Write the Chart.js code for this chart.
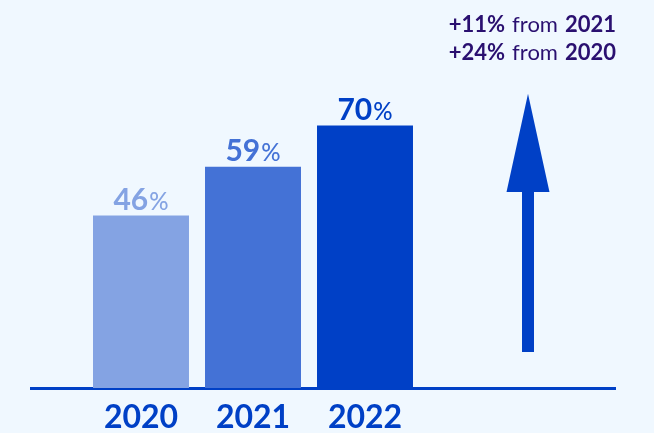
<!DOCTYPE html>
<html>
<head>
<meta charset="utf-8">
<script src="https://cdn.jsdelivr.net/npm/chart.js@4/dist/chart.umd.min.js"></script>
<style>
  body { margin: 0; background: #f0f8ff; }
  #share-chart { display: block; }
</style>
</head>
<body>
<canvas id="share-chart" width="654" height="433"></canvas>
<script>
const ctx = document.getElementById('share-chart');

// Share per year (%)
const years = ['2020', '2021', '2022'];
const shares = [46, 59, 70];
const barColors = ['#84a3e3', '#4472d6', '#0040c6'];

// Growth notes in the top right
const growthNotes = [
    ['+11%', 'from', '2021'],
    ['+24%', 'from', '2020']
];

// Arrow drawn on the y scale: foot, head base, tip
const arrowValues = [9.6, 52.3, 78.5];

const FONT = 'Lato, "DejaVu Sans", sans-serif';

// value labels above bars, big digits + smaller %
const valueLabels = {
    id: 'valueLabels',
    afterDatasetsDraw(chart) {
        const c = chart.ctx;
        const meta = chart.getDatasetMeta(0);
        c.save();
        c.textBaseline = 'alphabetic';
        meta.data.forEach((bar, i) => {
            const num = String(shares[i]);
            c.font = 'bold 30px ' + FONT;
            const w1 = c.measureText(num).width;
            c.font = '500 24px ' + FONT;
            const w2 = c.measureText('%').width;
            const x0 = bar.x - (w1 + w2 + 1) / 2;
            const y = bar.y - 6;
            c.fillStyle = barColors[i];
            c.font = 'bold 30px ' + FONT;
            c.textAlign = 'left';
            c.fillText(num, x0, y);
            c.font = '500 24px ' + FONT;
            c.fillText('%', x0 + w1 + 1, y);
        });
        c.restore();
    }
};

// baseline, arrow and notes
const decor = {
    id: 'decor',
    beforeDatasetsDraw(chart) {
        const c = chart.ctx;
        const y0 = chart.scales.y.getPixelForValue(0);
        c.save();
        c.strokeStyle = '#0040c6';
        c.lineWidth = 3;
        c.beginPath();
        c.moveTo(30, y0 + 0.5);
        c.lineTo(616, y0 + 0.5);
        c.stroke();
        c.restore();
    },
    afterDraw(chart) {
        const c = chart.ctx;
        const ys = chart.scales.y;
        const ax = chart.chartArea.right + 107;
        const yFoot = ys.getPixelForValue(arrowValues[0]);
        const yBase = ys.getPixelForValue(arrowValues[1]);
        const yTip = ys.getPixelForValue(arrowValues[2]);
        c.save();
        c.fillStyle = '#0040c6';
        c.fillRect(ax - 6, yBase - 1, 12, yFoot - yBase + 1);
        c.beginPath();
        c.moveTo(ax, yTip);
        c.lineTo(ax + 21.5, yBase);
        c.lineTo(ax - 21.5, yBase);
        c.closePath();
        c.fill();

        // notes, right aligned
        c.fillStyle = '#2a1070';
        c.textBaseline = 'alphabetic';
        c.textAlign = 'left';
        const right = 616;
        growthNotes.forEach((parts, i) => {
            const y = 32 + i * 28;
            const fonts = ['bold 22px ' + FONT, '22px ' + FONT, 'bold 22px ' + FONT];
            const gap = 7;
            let widths = parts.map((p, k) => { c.font = fonts[k]; return c.measureText(p).width; });
            let x = right - widths.reduce((a, b) => a + b, 0) - gap * 2;
            parts.forEach((p, k) => {
                c.font = fonts[k];
                c.fillText(p, x, y);
                x += widths[k] + gap;
            });
        });
        c.restore();
    }
};

const shareChart = new Chart(ctx, {
    type: 'bar',
    data: {
        labels: years,
        datasets: [{
            data: shares,
            backgroundColor: barColors,
            borderWidth: 0,
            categoryPercentage: 1,
            barPercentage: 0.857
        }]
    },
    options: {
        responsive: false,
        animation: false,
        devicePixelRatio: 1,
        layout: { padding: { left: 85, right: 233, top: 13, bottom: 1 } },
        plugins: {
            legend: { display: false },
            tooltip: { enabled: false }
        },
        scales: {
            x: {
                grid: { display: false },
                border: { display: false },
                afterFit(scale) { scale.height = 44; },
                ticks: {
                    color: '#0040c6',
                    padding: 6,
                    font: { family: FONT, size: 32, weight: 'bold', lineHeight: 1 }
                }
            },
            y: {
                display: false,
                min: 0,
                max: 100
            }
        }
    },
    plugins: [decor, valueLabels]
});
</script>
</body>
</html>
